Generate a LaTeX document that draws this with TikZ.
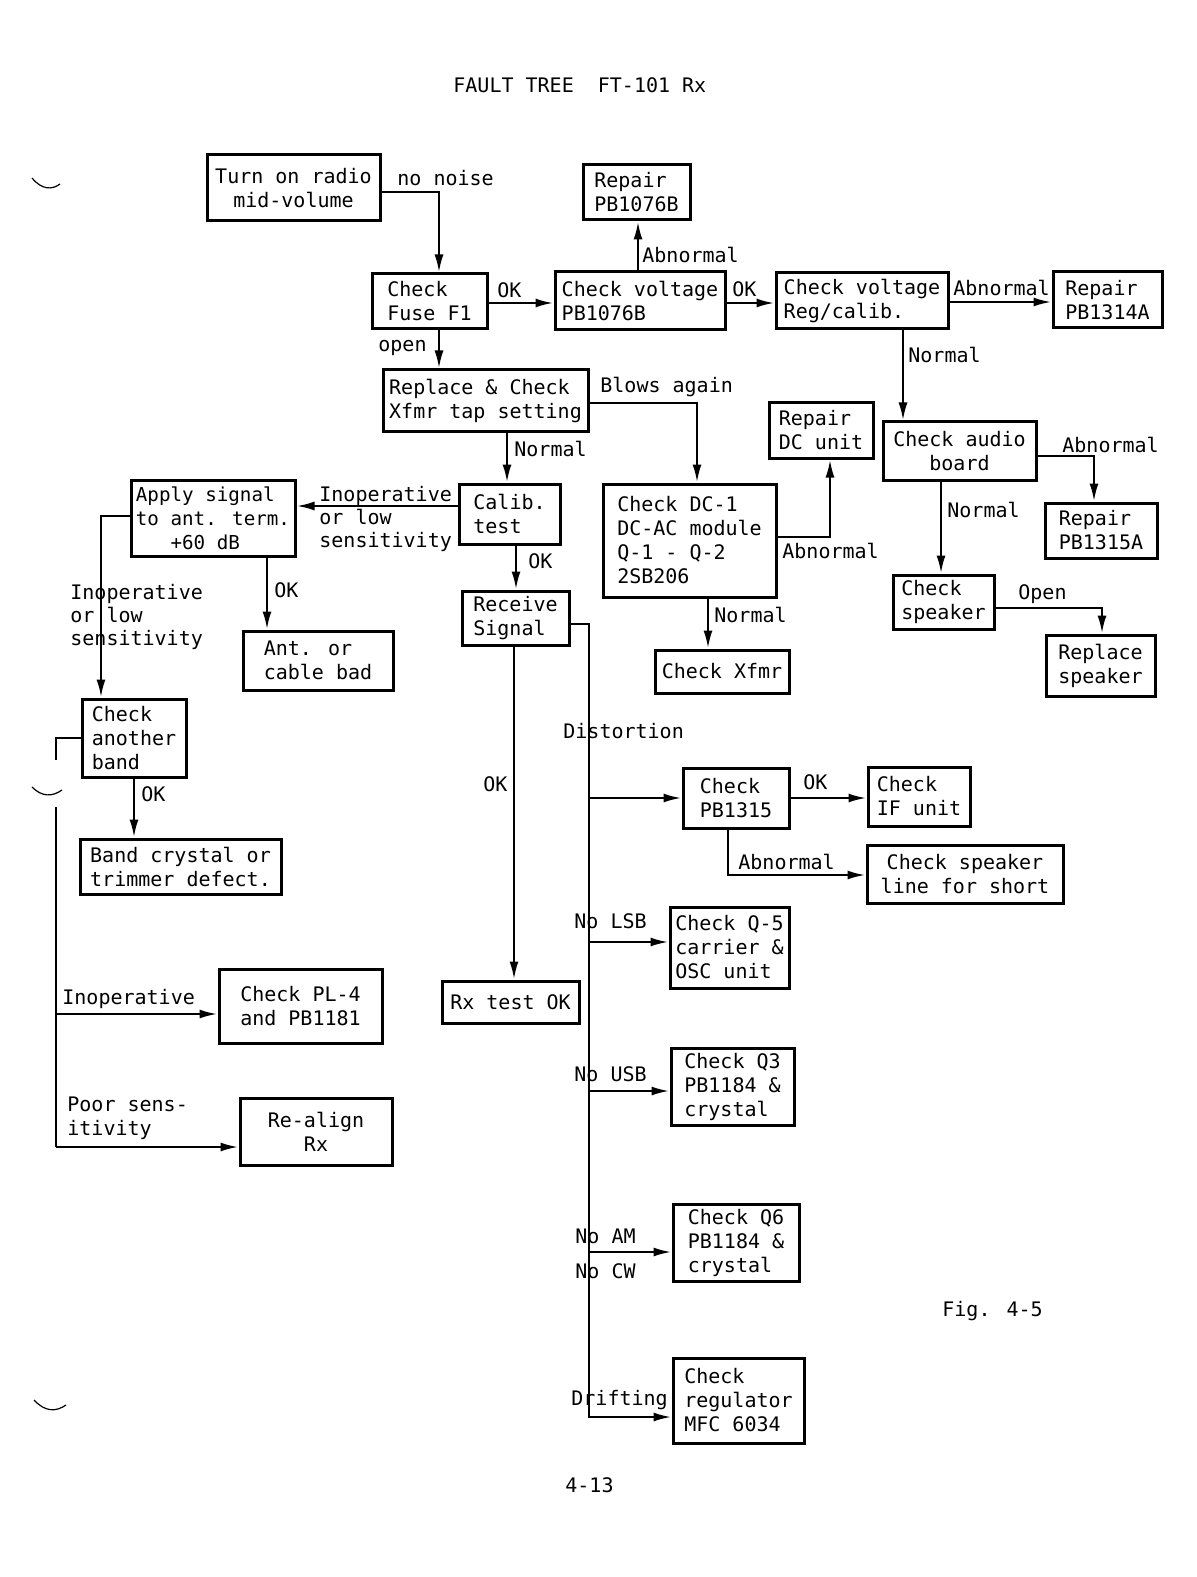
\documentclass[tikz,border=0pt]{standalone}
\usepackage{fontspec}
\setmainfont{DejaVu Sans Mono}
\usetikzlibrary{arrows.meta}
\newcommand{\fbx}[7][left]{\node[box, align=#1, minimum width={(#5-#3)*0.5pt}, minimum height={(#6-#4)*0.5pt}] (#2) at ({(#3+#5)/2},{(#4+#6)/2}) {#7};}
\begin{document}
\begin{tikzpicture}[x=0.5pt,y=-0.5pt,
  font=\fontsize{10}{12}\selectfont,
  box/.style={draw, line width=1.5pt, inner sep=0pt},
  ln/.style={line width=1.2pt},
  arr/.style={line width=1.2pt, -{Latex[length=9pt,width=4.5pt]}},
  lbl/.style={anchor=base west, inner sep=0pt}]
\useasboundingbox[fill=white] (0,0) rectangle (1197,1577);

% title and page marks
\node[lbl] (title) at (453,93) {FAULT TREE\ \ FT-101 Rx};
\node[lbl] (page) at (565,1492) {4-13};
\node[lbl] (fig) at (942,1316) {Fig. 4-5};

% boxes
\fbx[center]{radio}{207}{155}{380}{221}{Turn on radio\\mid-volume}
\fbx{fuse}{372}{274}{487}{329}{Check\\Fuse F1}
\fbx{rep1076}{583}{165}{690}{220}{Repair\\PB1076B}
\fbx{pb1076}{555}{272}{725}{330}{Check voltage\\PB1076B}
\fbx{reg}{776}{273}{948}{329}{Check voltage\\Reg/calib.}
\fbx{rep1314}{1053}{272}{1162}{328}{Repair\\PB1314A}
\fbx{replace}{383}{370}{588}{432}{Replace \& Check\\Xfmr tap setting}
\fbx{repdc}{769}{403}{873}{458}{Repair\\DC unit}
\fbx[center]{audio}{883}{422}{1036}{480}{Check audio\\board}
\fbx{rep1315a}{1045}{503}{1157}{558}{Repair\\PB1315A}
\fbx{apply}{131}{480}{295}{556}{\fontsize{9.6}{12}\selectfont Apply signal\\\fontsize{9.6}{12}\selectfont to ant. term.\\\fontsize{9.6}{12}\selectfont\phantom{abc}+60 dB}
\fbx{calib}{459}{484}{560}{544}{Calib.\\test}
\fbx{dc1}{603}{484}{776}{597}{Check DC-1\\DC-AC module\\Q-1 - Q-2\\2SB206}
\fbx{recv}{462}{591}{569}{645}{Receive\\Signal}
\fbx{ant}{243}{631}{393}{690}{Ant. or\\cable bad}
\fbx{xfmr}{655}{650}{789}{693}{Check Xfmr}
\fbx{speaker}{893}{575}{994}{629}{Check\\speaker}
\fbx{repspk}{1046}{635}{1155}{696}{Replace\\speaker}
\fbx{another}{82}{699}{186}{777}{Check\\another\\band}
\fbx{band}{80}{839}{281}{894}{Band crystal or\\trimmer defect.}
\fbx{pl4}{219}{969}{382}{1043}{Check PL-4\\and PB1181}
\fbx[center]{realign}{240}{1098}{392}{1165}{Re-align\\Rx}
\fbx{rxok}{442}{981}{579}{1023}{Rx test OK}
\fbx{pb1315}{683}{768}{789}{828}{Check\\PB1315}
\fbx{ifu}{868}{767}{970}{826}{Check\\IF unit}
\fbx[center]{spkline}{867}{845}{1063}{903}{Check speaker\\line for short}
\fbx{q5}{670}{907}{789}{988}{Check Q-5\\carrier \&\\OSC unit}
\fbx{q3}{671}{1048}{794}{1125}{Check Q3\\PB1184 \&\\crystal}
\fbx{q6}{673}{1204}{799}{1281}{Check Q6\\PB1184 \&\\crystal}
\fbx{regm}{673}{1358}{804}{1443}{Check\\regulator\\MFC 6034}

\coordinate (spine) at (589,624);
\coordinate (lspine) at (56,807);

% connectors
\draw[arr] (radio.east |- 0,192) -| (fuse.north -| 439,0);
\draw[arr] (fuse.east |- 0,303) -- (pb1076.west |- 0,303);
\draw[arr] (pb1076.north -| 638,0) -- (rep1076.south -| 638,0);
\draw[arr] (pb1076.east |- 0,303) -- (reg.west |- 0,303);
\draw[arr] (reg.east |- 0,302) -- (rep1314.west |- 0,302);
\draw[arr] (fuse.south -| 439,0) -- (replace.north -| 439,0);
\draw[arr] (reg.south -| 903,0) -- (audio.north -| 903,0);
\draw[arr] (replace.east |- 0,403) -| (dc1.north -| 697,0);
\draw[arr] (replace.south -| 507,0) -- (calib.north -| 507,0);
\draw[arr] (dc1.east |- 0,537) -| (repdc.south -| 830,0);
\draw[arr] (dc1.south -| 708,0) -- (xfmr.north -| 708,0);
\draw[arr] (audio.east |- 0,456) -| (rep1315a.north -| 1094,0);
\draw[arr] (audio.south -| 941,0) -- (speaker.north -| 941,0);
\draw[arr] (speaker.east |- 0,608) -| (repspk.north -| 1102,0);
\draw[arr] (calib.west |- 0,506) -- (apply.east |- 0,506);
\draw[arr] (calib.south -| 516,0) -- (recv.north -| 516,0);
\draw[arr] (apply.south -| 267,0) -- (ant.north -| 267,0);
\draw[arr] (apply.west |- 0,516) -| (another.north -| 101,0);
\draw[arr] (another.south -| 134,0) -- (band.north -| 134,0);
\draw[arr] (recv.south -| 514,0) -- (rxok.north -| 514,0);
\draw[arr] (recv.east |- spine) -| (spine |- 0,1417) -- (regm.west |- 0,1417);
\draw[arr] (spine |- 0,798) -- (pb1315.west |- 0,798);
\draw[arr] (spine |- 0,942) -- (q5.west |- 0,942);
\draw[arr] (spine |- 0,1091) -- (q3.west |- 0,1091);
\draw[arr] (spine |- 0,1252) -- (q6.west |- 0,1252);
\draw[arr] (pb1315.east |- 0,798) -- (ifu.west |- 0,798);
\draw[arr] (pb1315.south -| 728,0) |- (spkline.west |- 0,875);
\draw[ln] (another.west |- 0,738) -| (lspine |- 0,760);
\draw[ln] (lspine) -- (lspine |- 0,1147);
\draw[arr] (lspine |- 0,1014) -- (pl4.west |- 0,1014);
\draw[arr] (lspine |- 0,1147) -- (realign.west |- 0,1147);

% labels
\node[lbl] (l1) at (397,186) {no noise};
\node[lbl] (l2) at (497,298) {OK};
\node[lbl] (l3) at (642,263) {Abnormal};
\node[lbl] (l4) at (378,352) {open};
\node[lbl] (l5) at (600,393) {Blows again};
\node[lbl] (l6) at (732,297) {OK};
\node[lbl] (l7) at (953,296) {Abnormal};
\node[lbl] (l8) at (908,363) {Normal};
\node[lbl] (l9) at (1062,452) {Abnormal};
\node[lbl] (l10) at (947,517) {Normal};
\node[lbl] (l11) at (782,558) {Abnormal};
\node[lbl] (l12) at (514,456) {Normal};
\node[lbl] (l13) at (714,622) {Normal};
\node[lbl] (l14) at (1018,599) {Open};
\node[lbl] (l15) at (319,501) {Inoperative};
\node[lbl] (l16) at (319,524) {or low};
\node[lbl] (l17) at (319,547) {sensitivity};
\node[lbl] (l18) at (528,568) {OK};
\node[lbl] (l19) at (274,597) {OK};
\node[lbl] (l20) at (70,599) {Inoperative};
\node[lbl] (l21) at (70,622) {or low};
\node[lbl] (l22) at (70,645) {sensitivity};
\node[lbl] (l23) at (141,801) {OK};
\node[lbl] (l24) at (62,1004) {Inoperative};
\node[lbl] (l25) at (67,1111) {Poor sens-};
\node[lbl] (l26) at (67,1135) {itivity};
\node[lbl] (l27) at (483,791) {OK};
\node[lbl] (l28) at (563,738) {Distortion};
\node[lbl] (l29) at (803,789) {OK};
\node[lbl] (l30) at (738,869) {Abnormal};
\node[lbl] (l31) at (574,928) {No LSB};
\node[lbl] (l32) at (574,1081) {No USB};
\node[lbl] (l33) at (575,1243) {No AM};
\node[lbl] (l34) at (575,1278) {No CW};
\node[lbl] (l35) at (571,1405) {Drifting};

% hole-punch marks
\draw[line width=0.6pt] (32,178) .. controls (42,190) and (52,190) .. (60,184);
\draw[line width=0.6pt] (32,787) .. controls (42,797) and (52,797) .. (62,790);
\draw[line width=0.6pt] (34,1400) .. controls (45,1412) and (56,1412) .. (66,1405);
\end{tikzpicture}
\end{document}
